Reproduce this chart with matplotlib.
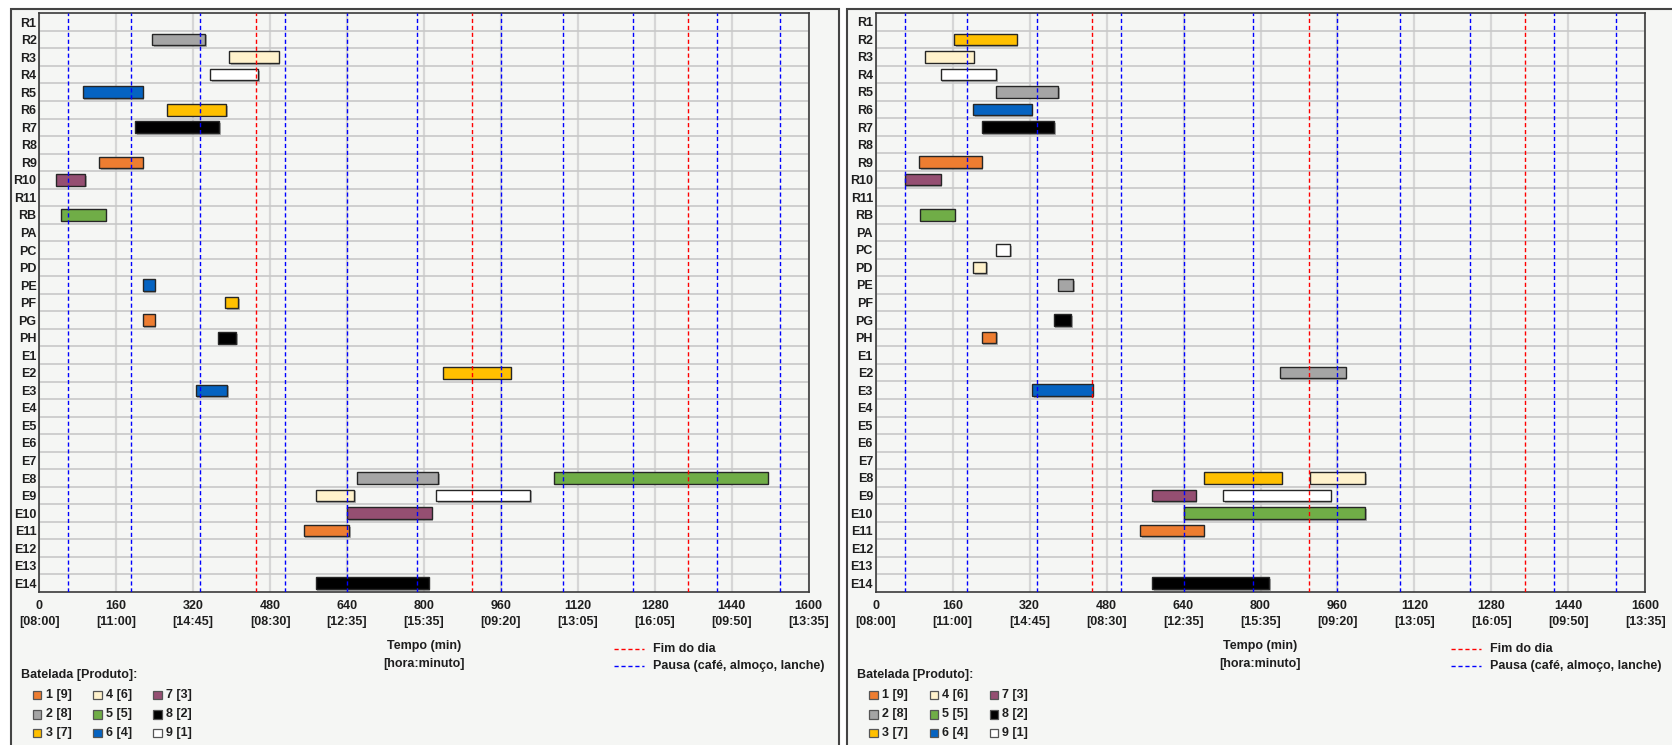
import matplotlib
matplotlib.use("Agg")
import matplotlib.pyplot as plt
import matplotlib.patheffects as pe
from matplotlib.patches import Rectangle
from matplotlib.lines import Line2D

plt.rcParams['font.family'] = ['Liberation Sans', 'DejaVu Sans']

# Unidades (linhas do gráfico, de cima para baixo)
rows = ['R1', 'R2', 'R3', 'R4', 'R5', 'R6', 'R7', 'R8', 'R9', 'R10', 'R11', 'RB',
        'PA', 'PC', 'PD', 'PE', 'PF', 'PG', 'PH',
        'E1', 'E2', 'E3', 'E4', 'E5', 'E6', 'E7', 'E8', 'E9', 'E10', 'E11', 'E12', 'E13', 'E14']

# Bateladas: cor e rótulo "batelada [produto]"
batch_colors = ['#ED7D31', '#A5A5A5', '#FFC000', '#FFF2CC', '#70AD47',
                '#0563C1', '#954F72', '#000000', '#FFFFFF']
batch_labels = ['1 [9]', '2 [8]', '3 [7]', '4 [6]', '5 [5]', '6 [4]', '7 [3]', '8 [2]', '9 [1]']

# Eixo x
xticks = [0, 160, 320, 480, 640, 800, 960, 1120, 1280, 1440, 1600]
xtick_hours = ['08:00', '11:00', '14:45', '08:30', '12:35', '15:35',
               '09:20', '13:05', '16:05', '09:50', '13:35']

# Linhas verticais
end_of_day = [450, 900, 1350]
pauses = [60, 190, 335, 510, 640, 785, 960, 1090, 1235, 1410, 1540]

# Painel esquerdo
left_unit = ['R2', 'R3', 'R4', 'R5', 'R6', 'R7', 'R9', 'R10', 'RB', 'PE', 'PF', 'PG', 'PH',
             'E2', 'E3', 'E8', 'E8', 'E9', 'E9', 'E10', 'E11', 'E14']
left_start = [235, 395, 355, 90, 265, 200, 125, 35, 45, 215, 387, 215, 372,
              840, 325, 660, 1070, 575, 825, 640, 550, 575]
left_end = [345, 498, 455, 215, 388, 374, 215, 96, 138, 240, 413, 240, 409,
            980, 390, 830, 1515, 655, 1021, 816, 645, 810]
left_batch = [2, 4, 9, 6, 3, 8, 1, 7, 5, 6, 3, 1, 8,
              3, 6, 2, 5, 4, 9, 7, 1, 8]

# Painel direito
right_unit = ['R2', 'R3', 'R4', 'R5', 'R6', 'R7', 'R9', 'R10', 'RB', 'PC', 'PD', 'PE', 'PG', 'PH',
              'E2', 'E3', 'E8', 'E8', 'E9', 'E9', 'E10', 'E11', 'E14']
right_start = [163, 103, 135, 250, 203, 220, 90, 60, 93, 250, 203, 380, 370, 220,
               840, 325, 682, 903, 575, 723, 640, 550, 575]
right_end = [293, 204, 251, 380, 324, 371, 220, 135, 164, 280, 229, 411, 406, 251,
             977, 451, 844, 1017, 665, 946, 1017, 682, 818]
right_batch = [3, 4, 9, 2, 6, 8, 1, 7, 5, 9, 4, 2, 8, 1,
               2, 6, 3, 4, 7, 9, 5, 1, 8]

W, H = 1672, 745
BG = '#F5F6F4'
TXT = '#1E1E1E'

fig = plt.figure(figsize=(W / 100, H / 100), dpi=100)
fig.patch.set_facecolor('white')

# eixo de fundo em pixels (molduras e legendas)
bg = fig.add_axes([0, 0, 1, 1], zorder=0)
bg.set_xlim(0, W)
bg.set_ylim(H, 0)
bg.axis('off')

bg.add_patch(Rectangle((11, 9.3), 827.7, 745, facecolor=BG, edgecolor='#444444', lw=1.5))
bg.add_patch(Rectangle((847.3, 8.7), 840, 745, facecolor=BG, edgecolor='#444444', lw=1.5))


def px_rect(left, top, right, bottom):
    return [left / W, 1 - bottom / H, (right - left) / W, (bottom - top) / H]


def draw_panel(left, top, right, bottom, units, starts, ends, batches):
    ax = fig.add_axes(px_rect(left, top, right, bottom), zorder=1)
    ax.set_facecolor(BG)
    ypos = [rows.index(u) for u in units]
    widths = [e - s for s, e in zip(starts, ends)]
    cols = [batch_colors[b - 1] for b in batches]
    bars = ax.barh(ypos, widths, left=starts, height=0.66, color=cols,
                   edgecolor='#262626', linewidth=1.0, zorder=3)
    for b in bars:
        b.set_path_effects([pe.SimplePatchShadow(offset=(1.2, -1.2), shadow_rgbFace='#808080', alpha=0.6),
                            pe.Normal()])
    for x in end_of_day:
        ax.axvline(x, color='#FF0000', lw=1.0, ls=(0, (3, 2)), zorder=4)
    for x in pauses:
        ax.axvline(x, color='#0000FF', lw=1.0, ls=(0, (3, 2)), zorder=4)

    ax.set_xlim(0, 1600)
    ax.set_ylim(len(rows) - 0.5, -0.5)
    ax.set_yticks(range(len(rows)))
    ax.set_yticklabels(rows, fontsize=9, fontweight='bold', color=TXT)
    ax.set_yticks([i + 0.5 for i in range(len(rows) - 1)], minor=True)
    ax.set_xticks(xticks)
    ax.set_xticklabels([f'{t}\n[{h}]' for t, h in zip(xticks, xtick_hours)],
                       fontsize=9, fontweight='bold', color=TXT, linespacing=1.45)
    ax.tick_params(axis='both', which='both', length=0)
    ax.tick_params(axis='y', pad=2)
    ax.tick_params(axis='x', pad=6)
    ax.grid(True, axis='y', which='minor', color='#C8C8C8', lw=1.2, zorder=1)
    ax.grid(True, axis='x', which='major', color='#D6D6D6', lw=1.6, zorder=1)
    ax.grid(False, axis='y', which='major')
    ax.set_axisbelow(True)
    for s in ax.spines.values():
        s.set_color('#3A3A3A')
        s.set_linewidth(1.2)

    cx = (left + right) / 2
    bg.text(cx, 646, 'Tempo (min)', ha='center', va='center', fontsize=9, fontweight='bold', color=TXT)
    bg.text(cx, 664, '[hora:minuto]', ha='center', va='center', fontsize=9, fontweight='bold', color=TXT)

    # legenda das linhas
    for yy, colr, lab in [(648.7, '#FF0000', 'Fim do dia'),
                          (666, '#0000FF', 'Pausa (café, almoço, lanche)')]:
        bg.add_line(Line2D([left + 575, left + 605], [yy, yy], color=colr, lw=1.0, ls=(0, (3, 2))))
        bg.text(left + 614, yy, lab, ha='left', va='center', fontsize=9, fontweight='bold', color=TXT)

    # legenda das bateladas
    bg.text(left - 18.3, 675, 'Batelada [Produto]:', ha='left', va='center',
            fontsize=9, fontweight='bold', color=TXT)
    col_x = [left - 6.3, left + 54, left + 114]
    row_y = [695, 714.5, 733.3]
    for i, (c, lab) in enumerate(zip(batch_colors, batch_labels)):
        xx = col_x[i // 3]
        yy = row_y[i % 3]
        bg.add_patch(Rectangle((xx, yy - 4.2), 8.4, 8.4, facecolor=c, edgecolor='#555555', lw=0.9))
        bg.text(xx + 12.5, yy, lab, ha='left', va='center', fontsize=9, fontweight='bold', color=TXT)
    return ax


draw_panel(39.3, 13.3, 808.7, 592, left_unit, left_start, left_end, left_batch)
draw_panel(875.7, 13.0, 1645.3, 592, right_unit, right_start, right_end, right_batch)

fig.savefig('out.png', dpi=100)
